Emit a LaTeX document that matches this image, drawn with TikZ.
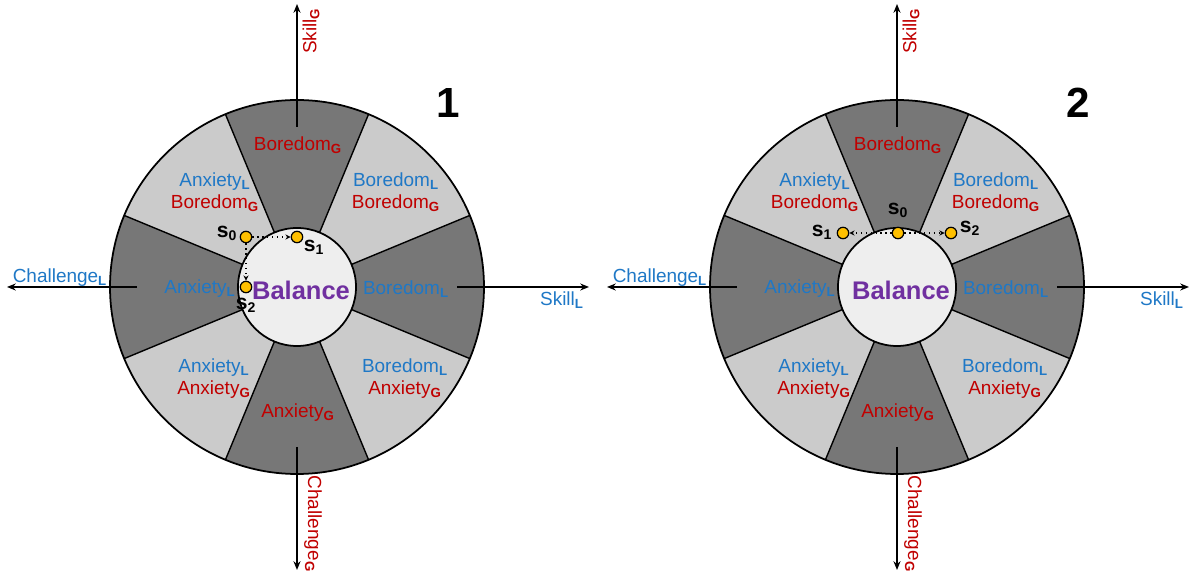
\documentclass[tikz,border=0pt]{standalone}
\usepackage{fontspec}
\setmainfont{Liberation Sans}
\usetikzlibrary{arrows.meta}
\definecolor{tblue}{HTML}{1F78C6}
\definecolor{tred}{HTML}{C00000}
\definecolor{tpurple}{HTML}{7030A0}
\definecolor{dg}{HTML}{777777}
\definecolor{lg}{HTML}{CBCBCB}
\definecolor{ig}{HTML}{EEEEEE}
\definecolor{pt}{HTML}{FFC000}
\newcommand\ssub[1]{\textsubscript{\bfseries #1}}
\newcommand\BL{\textcolor{tblue}{Boredom\ssub{L}}}
\newcommand\BG{\textcolor{tred}{Boredom\ssub{G}}}
\newcommand\AL{\textcolor{tblue}{Anxiety\ssub{L}}}
\newcommand\AG{\textcolor{tred}{Anxiety\ssub{G}}}
\tikzset{
  x=0.02cm, y=0.02cm,
  lbl/.style={align=center, inner sep=0pt, font=\fontsize{10.8}{12.6}\selectfont},
  axlbl/.style={inner sep=0pt, font=\fontsize{10.8}{12}\selectfont},
  axis/.style={line width=0.8pt, -{Stealth[length=5pt,width=4pt]}},
  sep/.style={line width=0.8pt},
  pnt/.style={circle, fill=pt, draw=black, line width=0.7pt, minimum size=6.5pt, inner sep=0pt},
  slbl/.style={inner sep=0pt, font=\fontsize{12}{14}\selectfont\bfseries},
  darr/.style={dotted, line width=0.8pt, -{Stealth[length=3pt,width=3pt]}},
  bal/.style={inner sep=0pt, text=tpurple, font=\fontsize{14.5}{16}\selectfont\bfseries},
  num/.style={inner sep=0pt, font=\fontsize{24}{26}\selectfont\bfseries}
}
\newcommand\wheel[2]{%
\begin{scope}[shift={(#1,291)}]
  \foreach \c/\col in {0/dg,45/lg,90/dg,135/lg,180/dg,225/lg,270/dg,315/lg}{
    \fill[\col] (0,0) -- (\c-22.5:187) arc[start angle=\c-22.5, end angle=\c+22.5, radius=187] -- cycle;
  }
  \foreach \c in {22.5,67.5,...,337.5}{
    \draw[sep] (\c:59) -- (\c:187);
  }
  \draw[line width=1pt] (0,0) circle[radius=187];
  \filldraw[fill=ig, draw=black, line width=1pt] (0,0) circle[radius=59];
  \coordinate (#2tin) at (0,160);  \coordinate (#2tout) at (0,283);
  \coordinate (#2bin) at (0,-160); \coordinate (#2bout) at (0,-283);
  \coordinate (#2lin) at (-160,0); \coordinate (#2lout) at (-290,0);
  \coordinate (#2rin) at (160,0);  \coordinate (#2rout) at (292,0);
  \draw[axis] (#2tin) -- (#2tout);
  \draw[axis] (#2bin) -- (#2bout);
  \draw[axis] (#2lin) -- (#2lout);
  \draw[axis] (#2rin) -- (#2rout);
  \node[lbl] (#2top) at (1,142) {\BG};
  \node[lbl] (#2ul) at (-82,95) {\AL\\\BG};
  \node[lbl] (#2ur) at (99,95) {\BL\\\BG};
  \node[lbl] (#2l) at (-97,-2) {\AL};
  \node[lbl] (#2r) at (109,-2) {\BL};
  \node[lbl] (#2ll) at (-83,-92) {\AL\\\AG};
  \node[lbl] (#2lr) at (108,-92) {\BL\\\AG};
  \node[lbl] (#2bot) at (1,-126) {\AG};
  \node[bal] (#2bal) at (4,-3) {Balance};
  \node[axlbl] (#2chl) at (-237,9) {\textcolor{tblue}{Challenge\ssub{L}}};
  \node[axlbl] (#2skl) at (265,-13) {\textcolor{tblue}{Skill\ssub{L}}};
  \node[axlbl, rotate=90] (#2skg) at (14,256) {\textcolor{tred}{Skill\ssub{G}}};
  \node[axlbl, rotate=-90] (#2chg) at (16,-237) {\textcolor{tred}{Challenge\ssub{G}}};
\end{scope}}
\begin{document}
\begin{tikzpicture}
\useasboundingbox (0,0) rectangle (1191,578);
\wheel{297}{a}
\wheel{897}{b}
\node[num] (n1) at (448,475) {1};
\node[num] (n2) at (1078,475) {2};
% left points
\node[pnt] (as0) at (246,341) {};
\node[pnt] (as1) at (297,341) {};
\node[pnt] (as2) at (246,291) {};
\draw[darr] (as0) -- (as1);
\draw[darr] (as0) -- (as2);
\node[slbl] (las0) at (227,345) {s\textsubscript{0}};
\node[slbl] (las1) at (314,331) {s\textsubscript{1}};
\node[slbl] (las2) at (246,273) {s\textsubscript{2}};
% right points
\node[pnt] (bs0) at (898,345) {};
\node[pnt] (bs1) at (843,345) {};
\node[pnt] (bs2) at (951,345) {};
\draw[darr] (bs0) -- (bs1);
\draw[darr] (bs0) -- (bs2);
\node[slbl] (lbs0) at (898,368) {s\textsubscript{0}};
\node[slbl] (lbs1) at (822,346) {s\textsubscript{1}};
\node[slbl] (lbs2) at (970,350) {s\textsubscript{2}};
\end{tikzpicture}
\end{document}
